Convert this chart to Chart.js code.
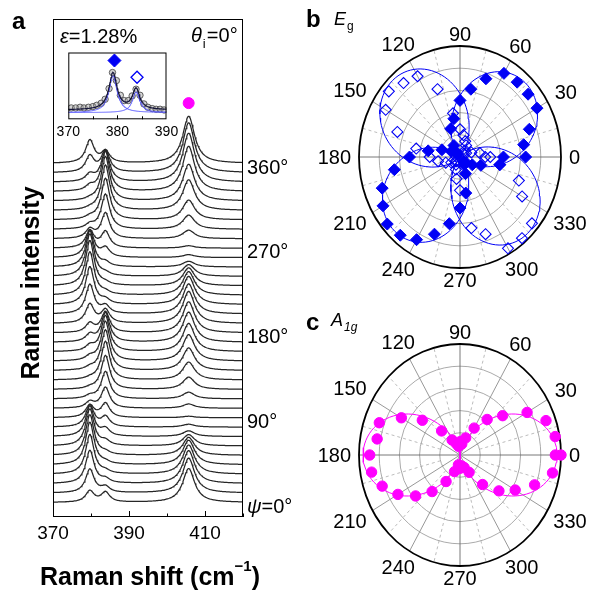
<!DOCTYPE html>
<html>
<head>
<meta charset="utf-8">
<title>Raman polarization</title>
<script src="https://cdn.jsdelivr.net/npm/chart.js@4.4.1/dist/chart.umd.min.js"></script>
<style>
  html, body { margin: 0; padding: 0; background: #fff; }
  #fig { position: relative; width: 591px; height: 594px; overflow: hidden; background: #fff; }
  #fig canvas { position: absolute; }
</style>
</head>
<body>
<div id="fig">
  <canvas id="spectra" width="300" height="594" style="left:0;top:0"></canvas>
  <canvas id="inset" width="150" height="100" style="left:40px;top:45px"></canvas>
  <canvas id="eg" width="291" height="300" style="left:300px;top:0"></canvas>
  <canvas id="a1g" width="291" height="297" style="left:300px;top:297px"></canvas>
</div>
<script>
// ---------- data ----------
var psi = [0, 10, 20, 30, 40, 50, 60, 70, 80, 90, 100, 110, 120, 130, 140, 150, 160, 170, 180,
           190, 200, 210, 220, 230, 240, 250, 260, 270, 280, 290, 300, 310, 320, 330, 340, 350, 360];
var psiLabels = [0, 90, 180, 270, 360];
var shiftTicks = [370, 390, 410];
var insetTicks = [370, 380, 390];
var angleTicks = [0, 30, 60, 90, 120, 150, 180, 210, 240, 270, 300, 330];

// peak centres (cm-1) and half widths of the three modes
var peakPos = [379.7, 383.8, 405.7];
var peakHwhm = [1.35, 1.35, 1.9];

// peak heights of every spectrum (units of the stacking offset)
var egFilledPeak = [1.2, 2.5, 3.5, 4.2, 4.5, 4.3, 3.9, 3.2, 2.3, 1.3, 0.65, 0.3, 0.15, 0.15, 0.25, 0.4, 0.55, 0.75, 0.95,
                    2.0, 3.1, 4.0, 4.6, 4.8, 4.5, 3.8, 2.9, 1.8, 0.95, 0.45, 0.25, 0.15, 0.15, 0.5, 0.75, 1.7, 2.4];
var egOpenPeak = [1.05, 0.6, 0.4, 0.25, 0.2, 0.25, 0.45, 0.75, 1.05, 1.5, 2.2, 2.9, 3.6, 4.1, 4.3, 4.2, 3.8, 3.1, 2.2,
                  1.4, 0.8, 0.45, 0.25, 0.2, 0.25, 0.4, 0.95, 1.7, 2.7, 3.7, 4.4, 4.8, 4.7, 4.2, 3.3, 2.3, 1.2];
var a1gPeak = [3.6, 3.7, 3.5, 3.1, 2.6, 1.9, 1.2, 0.6, 0.3, 0.15, 0.45, 0.7, 1.3, 1.9, 2.4, 2.8, 3.0, 3.2, 3.3,
               3.4, 3.2, 3.0, 2.5, 1.9, 1.25, 0.6, 0.3, 0.25, 0.9, 1.5, 2.1, 3.25, 3.9, 4.8, 5.2, 5.3, 5.0];

// inset spectrum (eps = 1.28 %)
var insetShift = [370.6, 371.5, 372.4, 373.2, 374.1, 375.0, 375.8, 376.7, 377.5, 378.3, 379.0, 379.8,
                  380.6, 381.4, 382.2, 383.0, 383.8, 384.6, 385.4, 386.2, 387.1, 387.9, 388.7, 389.5];
var insetCounts = [0.17, 0.17, 0.18, 0.17, 0.18, 0.19, 0.21, 0.24, 0.30, 0.46, 0.70, 0.58,
                   0.36, 0.28, 0.28, 0.35, 0.45, 0.36, 0.23, 0.18, 0.16, 0.15, 0.15, 0.14];
var insetFitPos = [379.1, 383.8];
var insetFitHeight = [0.55, 0.31];
var insetFitHwhm = [1.0, 0.9];

// polar intensities (normalised)
var egFilledPolar = [0.43, 0.64, 0.73, 0.88, 0.88, 0.88, 0.87, 0.75, 0.62, 0.51, 0.35, 0.27, 0.12, 0.06, 0.04, 0.10, 0.19, 0.32, 0.50,
                     0.66, 0.82, 0.88, 0.94, 0.92, 0.86, 0.74, 0.61, 0.46, 0.33, 0.16, 0.08, 0.05, 0.08, 0.14, 0.22, 0.40, 0.65];
var egOpenPolar = [0.30, 0.20, 0.12, 0.07, 0.05, 0.08, 0.12, 0.15, 0.20, 0.25, 0.40, 0.65, 0.84, 0.87, 0.92, 0.85, 0.66, 0.44, 0.30,
                   0.22, 0.15, 0.10, 0.06, 0.05, 0.08, 0.12, 0.20, 0.30, 0.65, 0.74, 0.95, 0.955, 0.93, 0.71, 0.62, 0.40, 0.25];
var a1gPolar = [1.0, 0.957, 0.906, 0.767, 0.551, 0.418, 0.28, 0.164, 0.10, 0.12, 0.08, 0.11, 0.156, 0.283, 0.487, 0.67, 0.85, 0.833, 0.894,
                0.889, 0.82, 0.71, 0.574, 0.43, 0.276, 0.159, 0.09, 0.12, 0.10, 0.12, 0.18, 0.347, 0.503, 0.631, 0.786, 0.93, 0.944];
var egFilledFit = { amp: 0.93, phase: 45, power: 1.5 };
var egOpenFit = { amp: 0.96, phase: 135, power: 1.5 };
var a1gFit = { amp: 0.96, phase: 0, power: 2 };

// ---------- helpers ----------
var FONT = 'Arial, "Liberation Sans", Helvetica, sans-serif';
var BLUE = '#0000f5';
var MAGENTA = '#ff00ff';
Chart.defaults.font.family = FONT;
Chart.defaults.color = '#000';

function lorentz(x, x0, g) {
  var d = (x - x0) / g;
  return 1 / (1 + d * d);
}

function toXY(angles, radii) {
  return angles.map(function(a, i) {
    var t = a * Math.PI / 180;
    return { x: radii[i] * Math.cos(t), y: radii[i] * Math.sin(t) };
  });
}

function fitCurve(fit) {
  var pts = [];
  for (var a = 0; a <= 360; a += 2) {
    var t = a * Math.PI / 180;
    var r = fit.amp * Math.pow(Math.abs(Math.cos(t - fit.phase * Math.PI / 180)), fit.power);
    pts.push({ x: r * Math.cos(t), y: r * Math.sin(t) });
  }
  return pts;
}

// ---------- panel a: stacked spectra ----------
var shiftGrid = [];
for (var s = 0; s <= 250; s++) shiftGrid.push(370 + s * 0.2);

var spectraSets = psi.map(function(p, i) {
  return {
    data: shiftGrid.map(function(x) {
      return {
        x: x,
        y: i + egFilledPeak[i] * lorentz(x, peakPos[0], peakHwhm[0])
             + egOpenPeak[i] * lorentz(x, peakPos[1], peakHwhm[1])
             + a1gPeak[i] * lorentz(x, peakPos[2], peakHwhm[2])
      };
    }),
    borderColor: '#262626',
    borderWidth: 1.25,
    pointRadius: 0,
    fill: false,
    tension: 0
  };
});
spectraSets.push({
  data: [{ x: peakPos[2], y: 42.4 }],
  showLine: false,
  pointRadius: 5.5,
  pointBackgroundColor: MAGENTA,
  pointBorderColor: MAGENTA
});

var spectraDecor = {
  id: 'spectraDecor',
  afterDraw: function(chart) {
    var ctx = chart.ctx, a = chart.chartArea, xs = chart.scales.x, ys = chart.scales.y;
    ctx.save();
    ctx.strokeStyle = '#000';
    ctx.lineWidth = 1;
    ctx.strokeRect(a.left + 0.5, a.top + 0.5, a.right - a.left - 1, a.bottom - a.top - 1);
    [370, 380, 390, 400, 410, 420].forEach(function(v) {
      var px = Math.round(xs.getPixelForValue(v)) + 0.5;
      var len = shiftTicks.indexOf(v) >= 0 ? 6 : 3.5;
      ctx.beginPath();
      ctx.moveTo(px, a.bottom);
      ctx.lineTo(px, a.bottom - len);
      ctx.stroke();
    });

    ctx.fillStyle = '#000';
    ctx.textBaseline = 'middle';
    ctx.textAlign = 'left';
    psiLabels.forEach(function(p) {
      var y = ys.getPixelForValue(p / 10 - 0.5);
      var x = a.right + 4;
      if (p === 0) {
        ctx.font = 'italic 20px ' + FONT;
        ctx.fillText('\u03c8', x, y);
        x += ctx.measureText('\u03c8').width;
        ctx.font = '20px ' + FONT;
        ctx.fillText('=0\u00b0', x, y);
      } else {
        ctx.font = '20px ' + FONT;
        ctx.fillText(p + '\u00b0', x, y);
      }
    });

    // panel letter and annotations
    ctx.font = 'bold 24px ' + FONT;
    ctx.fillText('a', 12, 22);
    ctx.font = 'italic 20px ' + FONT;
    ctx.fillText('\u03b5', 60, 37);
    var ex = 60 + ctx.measureText('\u03b5').width;
    ctx.font = '20px ' + FONT;
    ctx.fillText('=1.28%', ex, 37);

    ctx.font = 'italic 20px ' + FONT;
    ctx.fillText('\u03b8', 191, 36);
    var tx = 191 + ctx.measureText('\u03b8').width;
    ctx.font = '13px ' + FONT;
    ctx.fillText('i', tx + 1, 44);
    ctx.font = '20px ' + FONT;
    ctx.fillText('=0\u00b0', tx + 5, 36);

    // axis titles
    ctx.font = 'bold 25px ' + FONT;
    var t1 = 'Raman shift (cm', t2 = '\u22121', t3 = ')';
    var w1 = ctx.measureText(t1).width, w3 = ctx.measureText(t3).width;
    ctx.font = 'bold 15px ' + FONT;
    var w2 = ctx.measureText(t2).width;
    var x0 = 150 - (w1 + w2 + w3) / 2, yT = 578;
    ctx.font = 'bold 25px ' + FONT;
    ctx.fillText(t1, x0, yT);
    ctx.font = 'bold 15px ' + FONT;
    ctx.fillText(t2, x0 + w1, yT - 11);
    ctx.font = 'bold 25px ' + FONT;
    ctx.fillText(t3, x0 + w1 + w2, yT);

    ctx.translate(32, 283);
    ctx.rotate(-Math.PI / 2);
    ctx.textAlign = 'center';
    ctx.fillText('Raman intensity', 0, 0);
    ctx.restore();
  }
};

new Chart(document.getElementById('spectra'), {
  type: 'line',
  data: { datasets: spectraSets },
  options: {
    responsive: false,
    animation: false,
    devicePixelRatio: 1,
    events: [],
    layout: { padding: { left: 53, right: 57, top: 19, bottom: 0 } },
    plugins: { legend: { display: false }, tooltip: { enabled: false } },
    scales: {
      x: {
        type: 'linear', min: 370, max: 420,
        grid: { display: false, drawTicks: false },
        border: { display: false },
        afterBuildTicks: function(sc) { sc.ticks = shiftTicks.map(function(v) { return { value: v }; }); },
        afterFit: function(sc) { sc.height = 77; },
        ticks: { font: { size: 19 }, color: '#000', padding: 5, maxRotation: 0, autoSkip: false }
      },
      y: { type: 'linear', min: -1.54, max: 51.33, display: false }
    }
  },
  plugins: [spectraDecor]
});

// ---------- inset ----------
var insetGrid = [];
for (var k = 0; k <= 200; k++) insetGrid.push(370 + k * 0.1);
function insetComp(j, base) {
  return insetGrid.map(function(x) {
    return { x: x, y: base + insetFitHeight[j] * lorentz(x, insetFitPos[j], insetFitHwhm[j]) };
  });
}
var insetSum = insetGrid.map(function(x) {
  return { x: x, y: 0.14 + insetFitHeight[0] * lorentz(x, insetFitPos[0], insetFitHwhm[0])
                       + insetFitHeight[1] * lorentz(x, insetFitPos[1], insetFitHwhm[1]) };
});

var insetDecor = {
  id: 'insetDecor',
  afterDraw: function(chart) {
    var ctx = chart.ctx, a = chart.chartArea, xs = chart.scales.x;
    ctx.save();
    ctx.strokeStyle = '#000';
    ctx.lineWidth = 1;
    ctx.strokeRect(a.left + 0.5, a.top + 0.5, a.right - a.left - 1, a.bottom - a.top - 1);
    [375, 380, 385].forEach(function(v) {
      var px = Math.round(xs.getPixelForValue(v)) + 0.5;
      ctx.beginPath();
      ctx.moveTo(px, a.bottom);
      ctx.lineTo(px, a.bottom - (v === 380 ? 4 : 3));
      ctx.stroke();
    });
    ctx.restore();
  }
};

new Chart(document.getElementById('inset'), {
  type: 'line',
  data: {
    datasets: [
      { data: [{ x: 379.4, y: 0.88 }], showLine: false, pointStyle: 'rectRot', pointRadius: 6.5,
        pointBackgroundColor: BLUE, pointBorderColor: BLUE },
      { data: [{ x: 384.0, y: 0.63 }], showLine: false, pointStyle: 'rectRot', pointRadius: 6,
        pointBackgroundColor: 'rgba(255,255,255,0)', pointBorderColor: BLUE, pointBorderWidth: 1.3 },
      { data: insetSum, borderColor: '#15153a', borderWidth: 1.2, pointRadius: 0, tension: 0 },
      { data: insetComp(0, 0.1), borderColor: '#5c5cff', borderWidth: 1, pointRadius: 0, tension: 0 },
      { data: insetComp(1, 0.1), borderColor: '#5c5cff', borderWidth: 1, pointRadius: 0, tension: 0 },
      { data: insetShift.map(function(x, i) { return { x: x, y: insetCounts[i] }; }), showLine: false,
        pointRadius: 3.2, pointBorderWidth: 1, pointBorderColor: 'rgba(80,80,80,0.9)',
        pointBackgroundColor: 'rgba(160,160,160,0.45)' }
    ]
  },
  options: {
    responsive: false,
    animation: false,
    devicePixelRatio: 1,
    events: [],
    layout: { padding: { left: 28.3, right: 23.5, top: 6, bottom: 0 } },
    plugins: { legend: { display: false }, tooltip: { enabled: false } },
    scales: {
      x: {
        type: 'linear', min: 370, max: 390,
        grid: { display: false, drawTicks: false },
        border: { display: false },
        afterBuildTicks: function(sc) { sc.ticks = insetTicks.map(function(v) { return { value: v }; }); },
        afterFit: function(sc) { sc.height = 25.7; },
        ticks: { font: { size: 14 }, color: '#000', padding: 4, maxRotation: 0, autoSkip: false }
      },
      y: { type: 'linear', min: 0, max: 1, display: false }
    }
  },
  plugins: [insetDecor]
});

// ---------- panels b and c: polar plots ----------
function polarGrid(letter, drawTitle) {
  return {
    id: 'polarGrid',
    beforeDatasetsDraw: function(chart) {
      var ctx = chart.ctx, xs = chart.scales.x, ys = chart.scales.y;
      var cx = xs.getPixelForValue(0), cy = ys.getPixelForValue(0);
      var rx = xs.getPixelForValue(1) - cx, ry = cy - ys.getPixelForValue(1);
      ctx.save();
      // dashed spokes between the labelled angles
      ctx.strokeStyle = '#b4b4b4';
      ctx.lineWidth = 0.9;
      ctx.setLineDash([3, 3]);
      for (var i = 0; i < 12; i++) {
        var t = (angleTicks[i] + 15) * Math.PI / 180;
        ctx.beginPath();
        ctx.moveTo(cx + 0.2 * rx * Math.cos(t), cy - 0.2 * ry * Math.sin(t));
        ctx.lineTo(cx + rx * Math.cos(t), cy - ry * Math.sin(t));
        ctx.stroke();
      }
      ctx.setLineDash([]);
      ctx.strokeStyle = '#a0a0a0';
      [0.2, 0.4, 0.6, 0.8].forEach(function(r) {
        ctx.beginPath();
        ctx.ellipse(cx, cy, r * rx, r * ry, 0, 0, 2 * Math.PI);
        ctx.stroke();
      });
      angleTicks.forEach(function(a) {
        var t = a * Math.PI / 180;
        ctx.strokeStyle = (a % 90 === 0) ? '#6a6a6a' : '#8c8c8c';
        ctx.beginPath();
        ctx.moveTo(cx, cy);
        ctx.lineTo(cx + rx * Math.cos(t), cy - ry * Math.sin(t));
        ctx.stroke();
      });
      ctx.strokeStyle = '#000';
      ctx.lineWidth = 1.8;
      ctx.beginPath();
      ctx.ellipse(cx, cy, rx, ry, 0, 0, 2 * Math.PI);
      ctx.stroke();

      ctx.fillStyle = '#000';
      ctx.font = '20px ' + FONT;
      ctx.textAlign = 'center';
      ctx.textBaseline = 'middle';
      angleTicks.forEach(function(a) {
        var t = a * Math.PI / 180, c = Math.cos(t), s = Math.sin(t);
        var txt = String(a), w = ctx.measureText(txt).width;
        var ext = Math.abs(c) * w / 2 + Math.abs(s) * 7;
        ctx.fillText(txt, cx + c * (rx + 8 + ext), cy - s * (ry - 3 + 8 + ext) + 1);
      });

      ctx.textAlign = 'left';
      ctx.font = 'bold 24px ' + FONT;
      ctx.fillText(letter.text, letter.x, letter.y);
      drawTitle(ctx);
      ctx.restore();
    }
  };
}

function polarOptions(pad) {
  return {
    responsive: false,
    animation: false,
    devicePixelRatio: 1,
    events: [],
    layout: { padding: pad },
    plugins: { legend: { display: false }, tooltip: { enabled: false } },
    scales: {
      x: { type: 'linear', min: -1, max: 1, display: false },
      y: { type: 'linear', min: -1, max: 1, display: false }
    }
  };
}

new Chart(document.getElementById('eg'), {
  type: 'scatter',
  data: {
    datasets: [
      { data: toXY(psi, egFilledPolar), pointStyle: 'rectRot', pointRadius: 6,
        pointBackgroundColor: BLUE, pointBorderColor: BLUE, clip: false, order: 0 },
      { data: toXY(psi, egOpenPolar), pointStyle: 'rectRot', pointRadius: 5.5, pointBorderWidth: 1.1,
        pointBackgroundColor: 'rgba(255,255,255,0)', pointBorderColor: BLUE, clip: false, order: 0 },
      { data: fitCurve(egFilledFit), showLine: true, pointRadius: 0, borderColor: BLUE, borderWidth: 1,
        clip: false, order: 1 },
      { data: fitCurve(egOpenFit), showLine: true, pointRadius: 0, borderColor: BLUE, borderWidth: 1,
        clip: false, order: 1 }
    ]
  },
  options: polarOptions({ left: 59, right: 30, top: 46, bottom: 32 }),
  plugins: [polarGrid({ text: 'b', x: 6, y: 20 }, function(ctx) {
    ctx.font = 'italic 18px ' + FONT;
    ctx.fillText('E', 34, 20);
    ctx.font = '12px ' + FONT;
    ctx.fillText('g', 47, 27);
  })]
});

new Chart(document.getElementById('a1g'), {
  type: 'scatter',
  data: {
    datasets: [
      { data: toXY(psi, a1gPolar), pointRadius: 5.2, pointBackgroundColor: MAGENTA,
        pointBorderColor: MAGENTA, clip: false, order: 0 },
      { data: fitCurve(a1gFit), showLine: true, pointRadius: 0, borderColor: MAGENTA, borderWidth: 1,
        clip: false, order: 1 }
    ]
  },
  options: polarOptions({ left: 59, right: 30, top: 47, bottom: 28 }),
  plugins: [polarGrid({ text: 'c', x: 6, y: 26 }, function(ctx) {
    ctx.font = 'italic 18px ' + FONT;
    ctx.fillText('A', 31, 24);
    ctx.font = 'italic 12px ' + FONT;
    ctx.fillText('1g', 44, 31);
  })]
});
</script>
</body>
</html>
